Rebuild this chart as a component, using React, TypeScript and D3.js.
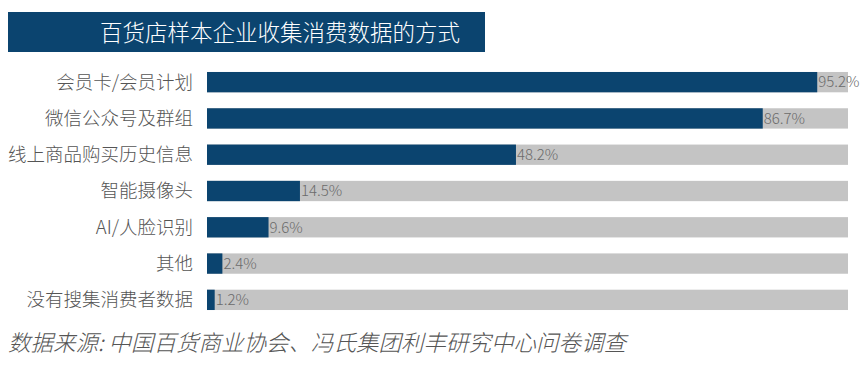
import React, { useRef, useEffect } from 'react'
import * as d3 from 'd3'

const categories = ['会员卡/会员计划', '微信公众号及群组', '线上商品购买历史信息', '智能摄像头', 'AI/人脸识别', '其他', '没有搜集消费者数据']
const values = [95.2, 86.7, 48.2, 14.5, 9.6, 2.4, 1.2]
const title = '百货店样本企业收集消费数据的方式'
const source = '数据来源: 中国百货商业协会、冯氏集团利丰研究中心问卷调查'

const FONT = '"Noto Sans CJK SC", "Noto Sans", sans-serif'

export default function App() {
    const svgRef = useRef<SVGSVGElement>(null)

    useEffect(() => {
        const width = 864
        const height = 372
        const svg = d3.select(svgRef.current).attr('width', width).attr('height', height)
        svg.selectAll('*').remove()

        // 标题框
        svg.append('rect')
            .attr('x', 8)
            .attr('y', 12)
            .attr('width', 477)
            .attr('height', 40)
            .attr('fill', '#0b446f')
        svg.append('text')
            .attr('x', 100)
            .attr('y', 33)
            .attr('dy', '0.35em')
            .attr('fill', '#fff')
            .style('font-family', FONT)
            .style('font-weight', 300)
            .style('font-size', '22.5px')
            .text(title)

        const x = d3.scaleLinear().domain([0, 100]).range([207, 848])
        const y = d3.scaleBand<string>().domain(categories).range([64, 318]).paddingInner(0.44).paddingOuter(0.22)

        const rows = svg.selectAll('.row').data(categories).enter().append('g').attr('class', 'row')

        // 灰色背景条
        rows.append('rect')
            .attr('x', x(0))
            .attr('y', (d) => y(d)!)
            .attr('width', x(100) - x(0))
            .attr('height', y.bandwidth())
            .attr('fill', '#c4c4c4')

        rows.append('rect')
            .attr('x', x(0))
            .attr('y', (d) => y(d)!)
            .attr('width', (d, i) => x(values[i]) - x(0))
            .attr('height', y.bandwidth())
            .attr('fill', '#0b446f')

        rows.append('text')
            .attr('x', 193)
            .attr('y', (d) => y(d)! + y.bandwidth() / 2)
            .attr('dy', '0.35em')
            .attr('text-anchor', 'end')
            .attr('fill', '#555')
            .style('font-family', FONT)
            .style('font-weight', 300)
            .style('font-size', '18.5px')
            .text((d) => d)

        rows.append('text')
            .attr('x', (d, i) => x(values[i]) + 1)
            .attr('y', (d) => y(d)! + y.bandwidth() / 2)
            .attr('dy', '0.35em')
            .attr('fill', '#6b6b6b')
            .style('font-family', FONT)
            .style('font-weight', 300)
            .style('font-size', '15px')
            .text((d, i) => `${values[i]}%`)

        svg.append('text')
            .attr('x', 8)
            .attr('y', 343)
            .attr('dy', '0.35em')
            .attr('fill', '#555')
            .style('font-family', FONT)
            .style('font-weight', 300)
            .style('font-size', '22.5px')
            .style('font-style', 'italic')
            .text(source)
    }, [])

    return (
        <div style={{ position: 'absolute', left: 0, top: 0 }}>
            <svg ref={svgRef} style={{ display: 'block' }} />
        </div>
    )
}
